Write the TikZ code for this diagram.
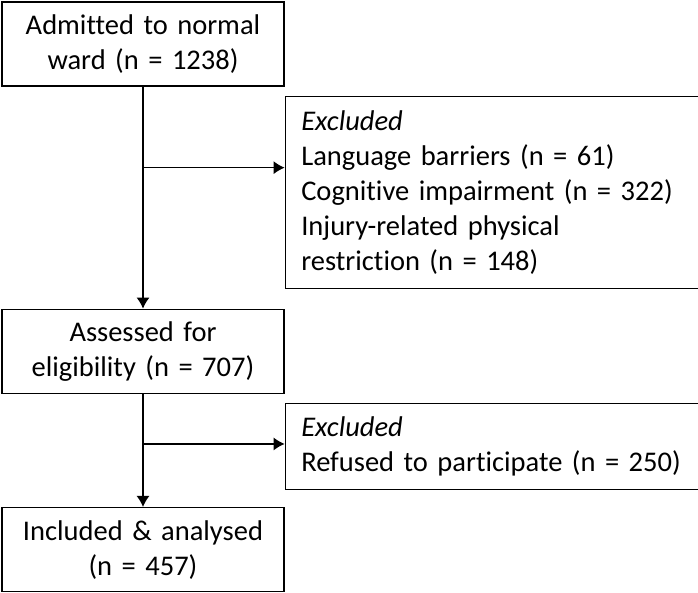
\documentclass[tikz,border=0pt]{standalone}
\usepackage{fontspec}
\setmainfont{Carlito}[Ligatures={NoCommon}]
\usetikzlibrary{arrows.meta,positioning}

\begin{document}
\begin{tikzpicture}[x=1pt, y=1pt]
        % Define block styles
        \tikzstyle{stage} = [rectangle, draw, line width=1.3pt, text width=262pt, inner xsep=10pt, inner ysep=0pt, align=center, minimum height=84pt, font=\fontsize{28.5}{35}\selectfont]
        \tikzstyle{excl} = [rectangle, draw, line width=1.3pt, text width=381pt, inner xsep=16pt, inner ysep=0pt, align=left, anchor=north west, font=\fontsize{28.5}{35}\selectfont]
        \tikzstyle{line} = [draw, line width=1.3pt, -{Latex[length=11pt, width=13pt]}]

        \useasboundingbox (0,0) rectangle (698,-592);

        % Nodes
        \node [stage] (Admitted) at (143,-44) {Admitted to normal\\ward (n = 1238)};
        \node [excl, minimum height=192pt] (Excluded_One) at ([yshift=-9pt]Admitted.south east) {\textit{Excluded}\\Language barriers (n = 61)\\Cognitive impairment (n = 322)\\Injury-related physical\\restriction (n = 148)};
        \node [stage, below=222pt of Admitted] (Assessed) {Assessed for\\eligibility (n = 707)};
        \node [excl, minimum height=86pt] (Excluded_Two) at ([yshift=-9pt]Assessed.south east) {\textit{Excluded}\\Refused to participate (n = 250)};
        \node [stage, below=113pt of Assessed] (Included) {Included \& analysed\\(n = 457)};

        % Branch points
        \coordinate [below=81pt of Admitted.south] (Split_One);
        \coordinate [below=50pt of Assessed.south] (Split_Two);

        % Arrows
        \path [line] (Admitted.south) -- (Assessed.north);
        \path [line] (Split_One) -- (Split_One -| Excluded_One.west);
        \path [line] (Assessed.south) -- (Included.north);
        \path [line] (Split_Two) -- (Split_Two -| Excluded_Two.west);
    \end{tikzpicture}
\end{document}
